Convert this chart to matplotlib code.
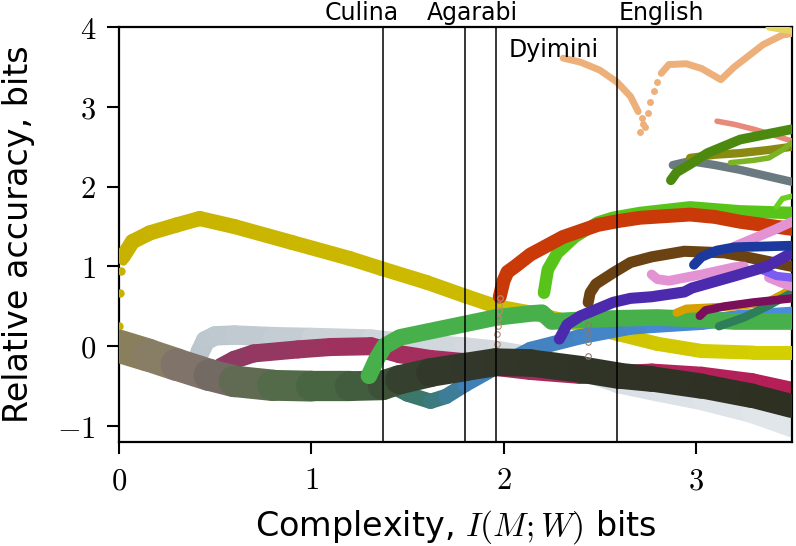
import numpy as np
import matplotlib
matplotlib.use("Agg")
import matplotlib.pyplot as plt
from matplotlib.collections import LineCollection
from matplotlib.colors import LinearSegmentedColormap

plt.rcParams['font.family'] = ['DejaVu Sans']
plt.rcParams['mathtext.fontset'] = 'cm'

# language markers
lang_names = ['Culina', 'Agarabi', 'Dyimini', 'English']
lang_x = [1.375, 1.797, 1.963, 2.589]

# main curve (olive -> grey -> green -> near black)
main_x = [0.0, 0.15, 0.3, 0.47, 0.6, 0.8, 1.0, 1.2, 1.37, 1.46, 1.62, 1.8, 1.96, 2.14, 2.4, 2.6, 2.77, 3.03, 3.29, 3.5]
main_y = [0.0, -0.11, -0.23, -0.36, -0.44, -0.49, -0.5, -0.5, -0.49, -0.42, -0.33, -0.26, -0.2, -0.21, -0.29, -0.37, -0.41, -0.5, -0.62, -0.75]

yellow_x = [0.02, 0.07, 0.16, 0.3, 0.42, 0.6, 0.9, 1.2, 1.37, 1.6, 1.8, 1.96, 2.14, 2.23, 2.4, 2.6, 2.8, 3.03, 3.3, 3.5]
yellow_y = [1.12, 1.31, 1.42, 1.52, 1.6, 1.5, 1.3, 1.1, 0.97, 0.8, 0.63, 0.5, 0.42, 0.37, 0.27, 0.15, 0.03, -0.06, -0.08, -0.08]
yellow_dots_x = [0.0, 0.005, 0.01, 0.02]
yellow_dots_y = [0.25, 0.67, 0.94, 1.07]

gray_x = [0.42, 0.45, 0.5, 0.6, 0.8, 1.0, 1.31, 1.46, 1.62, 1.8, 1.96, 2.2, 2.4, 2.6, 2.8, 3.03, 3.29, 3.5]
gray_y = [-0.08, 0.07, 0.13, 0.14, 0.12, 0.11, 0.09, 0.05, 0.02, -0.01, -0.05, -0.15, -0.3, -0.47, -0.57, -0.68, -0.84, -1.02]

mag_x = [0.53, 0.6, 0.7, 0.93, 1.1, 1.31, 1.46, 1.62, 1.8, 1.96, 2.14, 2.4, 2.6, 2.77, 3.03, 3.29, 3.5]
mag_y = [-0.26, -0.17, -0.09, -0.04, -0.01, 0.0, -0.1, -0.16, -0.2, -0.26, -0.31, -0.36, -0.35, -0.33, -0.37, -0.45, -0.56]

green_x = [1.3, 1.34, 1.38, 1.46, 1.62, 1.8, 1.96, 2.14, 2.2, 2.25, 2.4, 2.6, 2.8, 3.0, 3.2, 3.5]
green_y = [-0.37, -0.16, 0.0, 0.11, 0.19, 0.28, 0.36, 0.41, 0.42, 0.31, 0.33, 0.35, 0.36, 0.34, 0.31, 0.31]

blue_x = [1.42, 1.5, 1.62, 1.7, 1.8, 1.97, 2.14, 2.4, 2.66, 2.77, 3.03, 3.23, 3.5]
blue_y = [-0.5, -0.6, -0.69, -0.63, -0.48, -0.25, -0.04, 0.12, 0.24, 0.26, 0.3, 0.36, 0.4]

red_x = [1.98, 2.0, 2.02, 2.06, 2.14, 2.31, 2.49, 2.6, 2.71, 2.97, 3.1, 3.23, 3.5]
red_y = [0.62, 0.82, 0.93, 1.0, 1.15, 1.37, 1.52, 1.57, 1.61, 1.65, 1.62, 1.56, 1.47]
red_open_x = [1.965, 1.967, 1.97, 1.972, 1.975, 1.977, 1.98]
red_open_y = [0.03, 0.15, 0.25, 0.35, 0.44, 0.52, 0.6]

lime_x = [2.21, 2.23, 2.28, 2.37, 2.49, 2.57, 2.71, 2.97, 3.23, 3.5]
lime_y = [0.67, 0.96, 1.17, 1.37, 1.55, 1.61, 1.67, 1.74, 1.69, 1.67]

brown_x = [2.44, 2.45, 2.48, 2.57, 2.66, 2.77, 2.94, 3.15, 3.3, 3.5]
brown_y = [0.55, 0.67, 0.78, 0.92, 1.05, 1.12, 1.19, 1.17, 1.1, 1.0]
brown_open_x = [2.44, 2.44, 2.44, 2.441, 2.442]
brown_open_y = [-0.12, 0.05, 0.17, 0.27, 0.4]

purple_x = [2.29, 2.33, 2.4, 2.57, 2.66, 2.77, 2.94, 2.98, 3.2, 3.37, 3.5]
purple_y = [0.09, 0.27, 0.38, 0.55, 0.6, 0.62, 0.68, 0.73, 0.88, 1.0, 1.17]

navy_x = [2.99, 3.03, 3.11, 3.2, 3.35, 3.5]
navy_y = [1.02, 1.12, 1.2, 1.24, 1.25, 1.26]

pink_x = [2.77, 2.8, 2.86, 3.03, 3.2, 3.25]
pink_y = [0.9, 0.84, 0.82, 0.9, 0.99, 1.0]
pink2_x = [3.2, 3.3, 3.4, 3.5]
pink2_y = [1.25, 1.35, 1.45, 1.56]
pink3_x = [3.38, 3.44, 3.5]
pink3_y = [0.86, 0.8, 0.75]

violet_x = [3.35, 3.42, 3.5]
violet_y = [0.95, 0.88, 0.86]

maroon_x = [3.02, 3.05, 3.15, 3.3, 3.5]
maroon_y = [0.38, 0.45, 0.5, 0.55, 0.6]

gold_x = [2.9, 2.95, 3.2, 3.37, 3.45, 3.5]
gold_y = [0.42, 0.47, 0.5, 0.55, 0.65, 0.72]

teal_x = [3.12, 3.25, 3.37, 3.5]
teal_y = [0.25, 0.36, 0.5, 0.67]

peach_x = [2.31, 2.4, 2.5, 2.59, 2.66, 2.7]
peach_y = [3.61, 3.56, 3.46, 3.31, 3.13, 2.94]
peach_dots_x = [2.71, 2.72, 2.725, 2.735, 2.75, 2.76, 2.78, 2.8]
peach_dots_y = [2.68, 2.86, 2.78, 2.75, 2.92, 3.06, 3.2, 3.31]
peach2_x = [2.82, 2.86, 2.95, 3.03, 3.13, 3.2, 3.35, 3.45, 3.5]
peach2_y = [3.42, 3.53, 3.54, 3.48, 3.34, 3.5, 3.78, 3.9, 3.92]

salmon_x = [3.11, 3.2, 3.3, 3.4, 3.5]
salmon_y = [2.82, 2.78, 2.72, 2.65, 2.57]

dkgreen_x = [2.87, 2.9, 2.97, 3.06, 3.23, 3.5]
dkgreen_y = [2.08, 2.18, 2.28, 2.42, 2.59, 2.72]

olive_x = [2.97, 3.1, 3.23, 3.38, 3.5]
olive_y = [2.36, 2.4, 2.42, 2.46, 2.5]
ygreen_x = [3.18, 3.3, 3.38, 3.45, 3.5]
ygreen_y = [2.3, 2.33, 2.36, 2.46, 2.55]

slate_x = [2.88, 2.97, 3.1, 3.23, 3.5]
slate_y = [2.27, 2.32, 2.27, 2.21, 2.06]

lime2_x = [3.42, 3.45, 3.5]
lime2_y = [1.75, 1.85, 1.88]

top_yellow_x = [3.38, 3.45, 3.5]
top_yellow_y = [4.0, 3.97, 3.95]


def grad_line(ax, x, y, stops, lw, z, lw_end=None):
    # stops: list of (x position, colour)
    x = np.asarray(x)
    y = np.asarray(y)
    span = x[-1] - x[0]
    pos = [(s - x[0]) / span for s, _ in stops]
    cmap = LinearSegmentedColormap.from_list('g', list(zip(pos, [c for _, c in stops])))
    pts = np.column_stack([x, y]).reshape(-1, 1, 2)
    segs = np.concatenate([pts[:-1], pts[1:]], axis=1)
    t = ((x[:-1] + x[1:]) / 2 - x[0]) / span
    cols = cmap(t)
    widths = lw if lw_end is None else lw + (lw_end - lw) * t
    lc = LineCollection(segs, colors=cols, linewidths=widths, capstyle='round',
                        joinstyle='round', zorder=z)
    ax.add_collection(lc)


fig = plt.figure(figsize=(7.96, 5.46), dpi=100)
ax = fig.add_axes([0.1495, 0.1905, 0.8455, 0.76])

grad_line(ax, gray_x, gray_y, [(0.42, '#bcc6cd'), (1.3, '#cdd4da'), (3.5, '#e2e7ec')], 14, 1)
grad_line(ax, mag_x, mag_y, [(0.53, '#8c3c62'), (1.3, '#a2305f'), (3.5, '#b61e58')], 13, 2)
grad_line(ax, yellow_x, yellow_y, [(0.02, '#c8b200'), (2.0, '#cdbc00'), (3.5, '#d4d000')], 11, 3, 10)
ax.plot(yellow_dots_x, yellow_dots_y, 'o', color='#c8b200', ms=6, mec='none', zorder=3)
grad_line(ax, blue_x, blue_y, [(1.42, '#3f6f5c'), (1.62, '#3a7a72'), (1.85, '#4080b8'), (3.5, '#4a8ce0')], 11, 3.5)
grad_line(ax, main_x, main_y, [(0.0, '#8c8058'), (0.3, '#857d6a'), (0.47, '#7a6a6b'),
                               (0.75, '#5c6a4c'), (1.0, '#4c6b46'), (1.37, '#3f573b'),
                               (1.6, '#32382b'), (3.5, '#2e3022')], 24, 4, 17)
ax.plot(green_x, green_y, color='#47b04b', lw=12, solid_capstyle='round', zorder=5)
ax.plot(lime_x, lime_y, color='#58c41a', lw=9, solid_capstyle='round', zorder=6)
ax.plot(red_x, red_y, color='#c93a08', lw=10, solid_capstyle='round', zorder=7)
ax.plot(red_open_x, red_open_y, 'o', mfc='none', mec='#c08a72', ms=4, mew=0.8, zorder=7)
ax.plot(brown_x, brown_y, color='#6b4312', lw=8, solid_capstyle='round', zorder=7)
ax.plot(brown_open_x, brown_open_y, 'o', mfc='none', mec='#8a7a6a', ms=4, mew=0.8, zorder=7)
ax.plot(gold_x, gold_y, color='#d6a000', lw=6, solid_capstyle='round', zorder=7)
ax.plot(teal_x, teal_y, color='#2e7e5a', lw=6, solid_capstyle='round', zorder=7)
ax.plot(maroon_x, maroon_y, color='#7a0f5c', lw=6, solid_capstyle='round', zorder=8)
ax.plot(pink_x, pink_y, color='#e393d3', lw=7, solid_capstyle='round', zorder=8)
ax.plot(pink2_x, pink2_y, color='#e393d3', lw=7, solid_capstyle='round', zorder=8)
ax.plot(pink3_x, pink3_y, color='#e393d3', lw=7, solid_capstyle='round', zorder=8)
ax.plot(violet_x, violet_y, color='#7b5cf0', lw=6, solid_capstyle='round', zorder=8)
ax.plot(purple_x, purple_y, color='#4b2aae', lw=8, solid_capstyle='round', zorder=9)
ax.plot(navy_x, navy_y, color='#1c3a9e', lw=7, solid_capstyle='round', zorder=9)
ax.plot(peach_x, peach_y, color='#eeb07a', lw=5, solid_capstyle='round', zorder=9)
ax.plot(peach_dots_x, peach_dots_y, 'o', color='#eeb07a', ms=5, mec='none', zorder=9)
ax.plot(peach2_x, peach2_y, color='#eeb07a', lw=5, solid_capstyle='round', zorder=9)
ax.plot(salmon_x, salmon_y, color='#e8897a', lw=4, solid_capstyle='round', zorder=9)
ax.plot(slate_x, slate_y, color='#6b7a80', lw=6, solid_capstyle='round', zorder=9)
ax.plot(olive_x, olive_y, color='#8a8a12', lw=6, solid_capstyle='round', zorder=9)
ax.plot(ygreen_x, ygreen_y, color='#7ab424', lw=4, solid_capstyle='round', zorder=9)
ax.plot(dkgreen_x, dkgreen_y, color='#4b8a0f', lw=7, solid_capstyle='round', zorder=10)
ax.plot(lime2_x, lime2_y, color='#6ad020', lw=4, solid_capstyle='round', zorder=10)
ax.plot(top_yellow_x, top_yellow_y, color='#e6d660', lw=5, solid_capstyle='round', zorder=10)

for name, xv in zip(lang_names, lang_x):
    ax.axvline(xv, color='black', lw=1.1, zorder=20)

ax.text(1.26, 4.02, 'Culina', ha='center', va='bottom', fontsize=17)
ax.text(1.84, 4.02, 'Agarabi', ha='center', va='bottom', fontsize=17)
ax.text(2.82, 4.02, 'English', ha='center', va='bottom', fontsize=17)
ax.text(2.26, 3.71, 'Dyimini', ha='center', va='center', fontsize=17, zorder=21)

ax.set_xlim(0, 3.5)
ax.set_ylim(-1.2, 4)
ax.set_xticks([0, 1, 2, 3])
ax.set_yticks([-1, 0, 1, 2, 3, 4])
ax.set_xticklabels(['$0$', '$1$', '$2$', '$3$'])
ax.set_yticklabels(['$-1$', '$0$', '$1$', '$2$', '$3$', '$4$'])
ax.tick_params(labelsize=22, length=8.5, width=1.5, direction='out')
ax.tick_params(axis='x', pad=9)
ax.tick_params(axis='y', pad=8)
for sp in ax.spines.values():
    sp.set_linewidth(1.6)

ax.set_xlabel('Complexity, $I(M;W)$ bits', fontsize=24, labelpad=9)
ax.set_ylabel('Relative accuracy, bits', fontsize=24, labelpad=16)

fig.savefig('out.png', dpi=100)
